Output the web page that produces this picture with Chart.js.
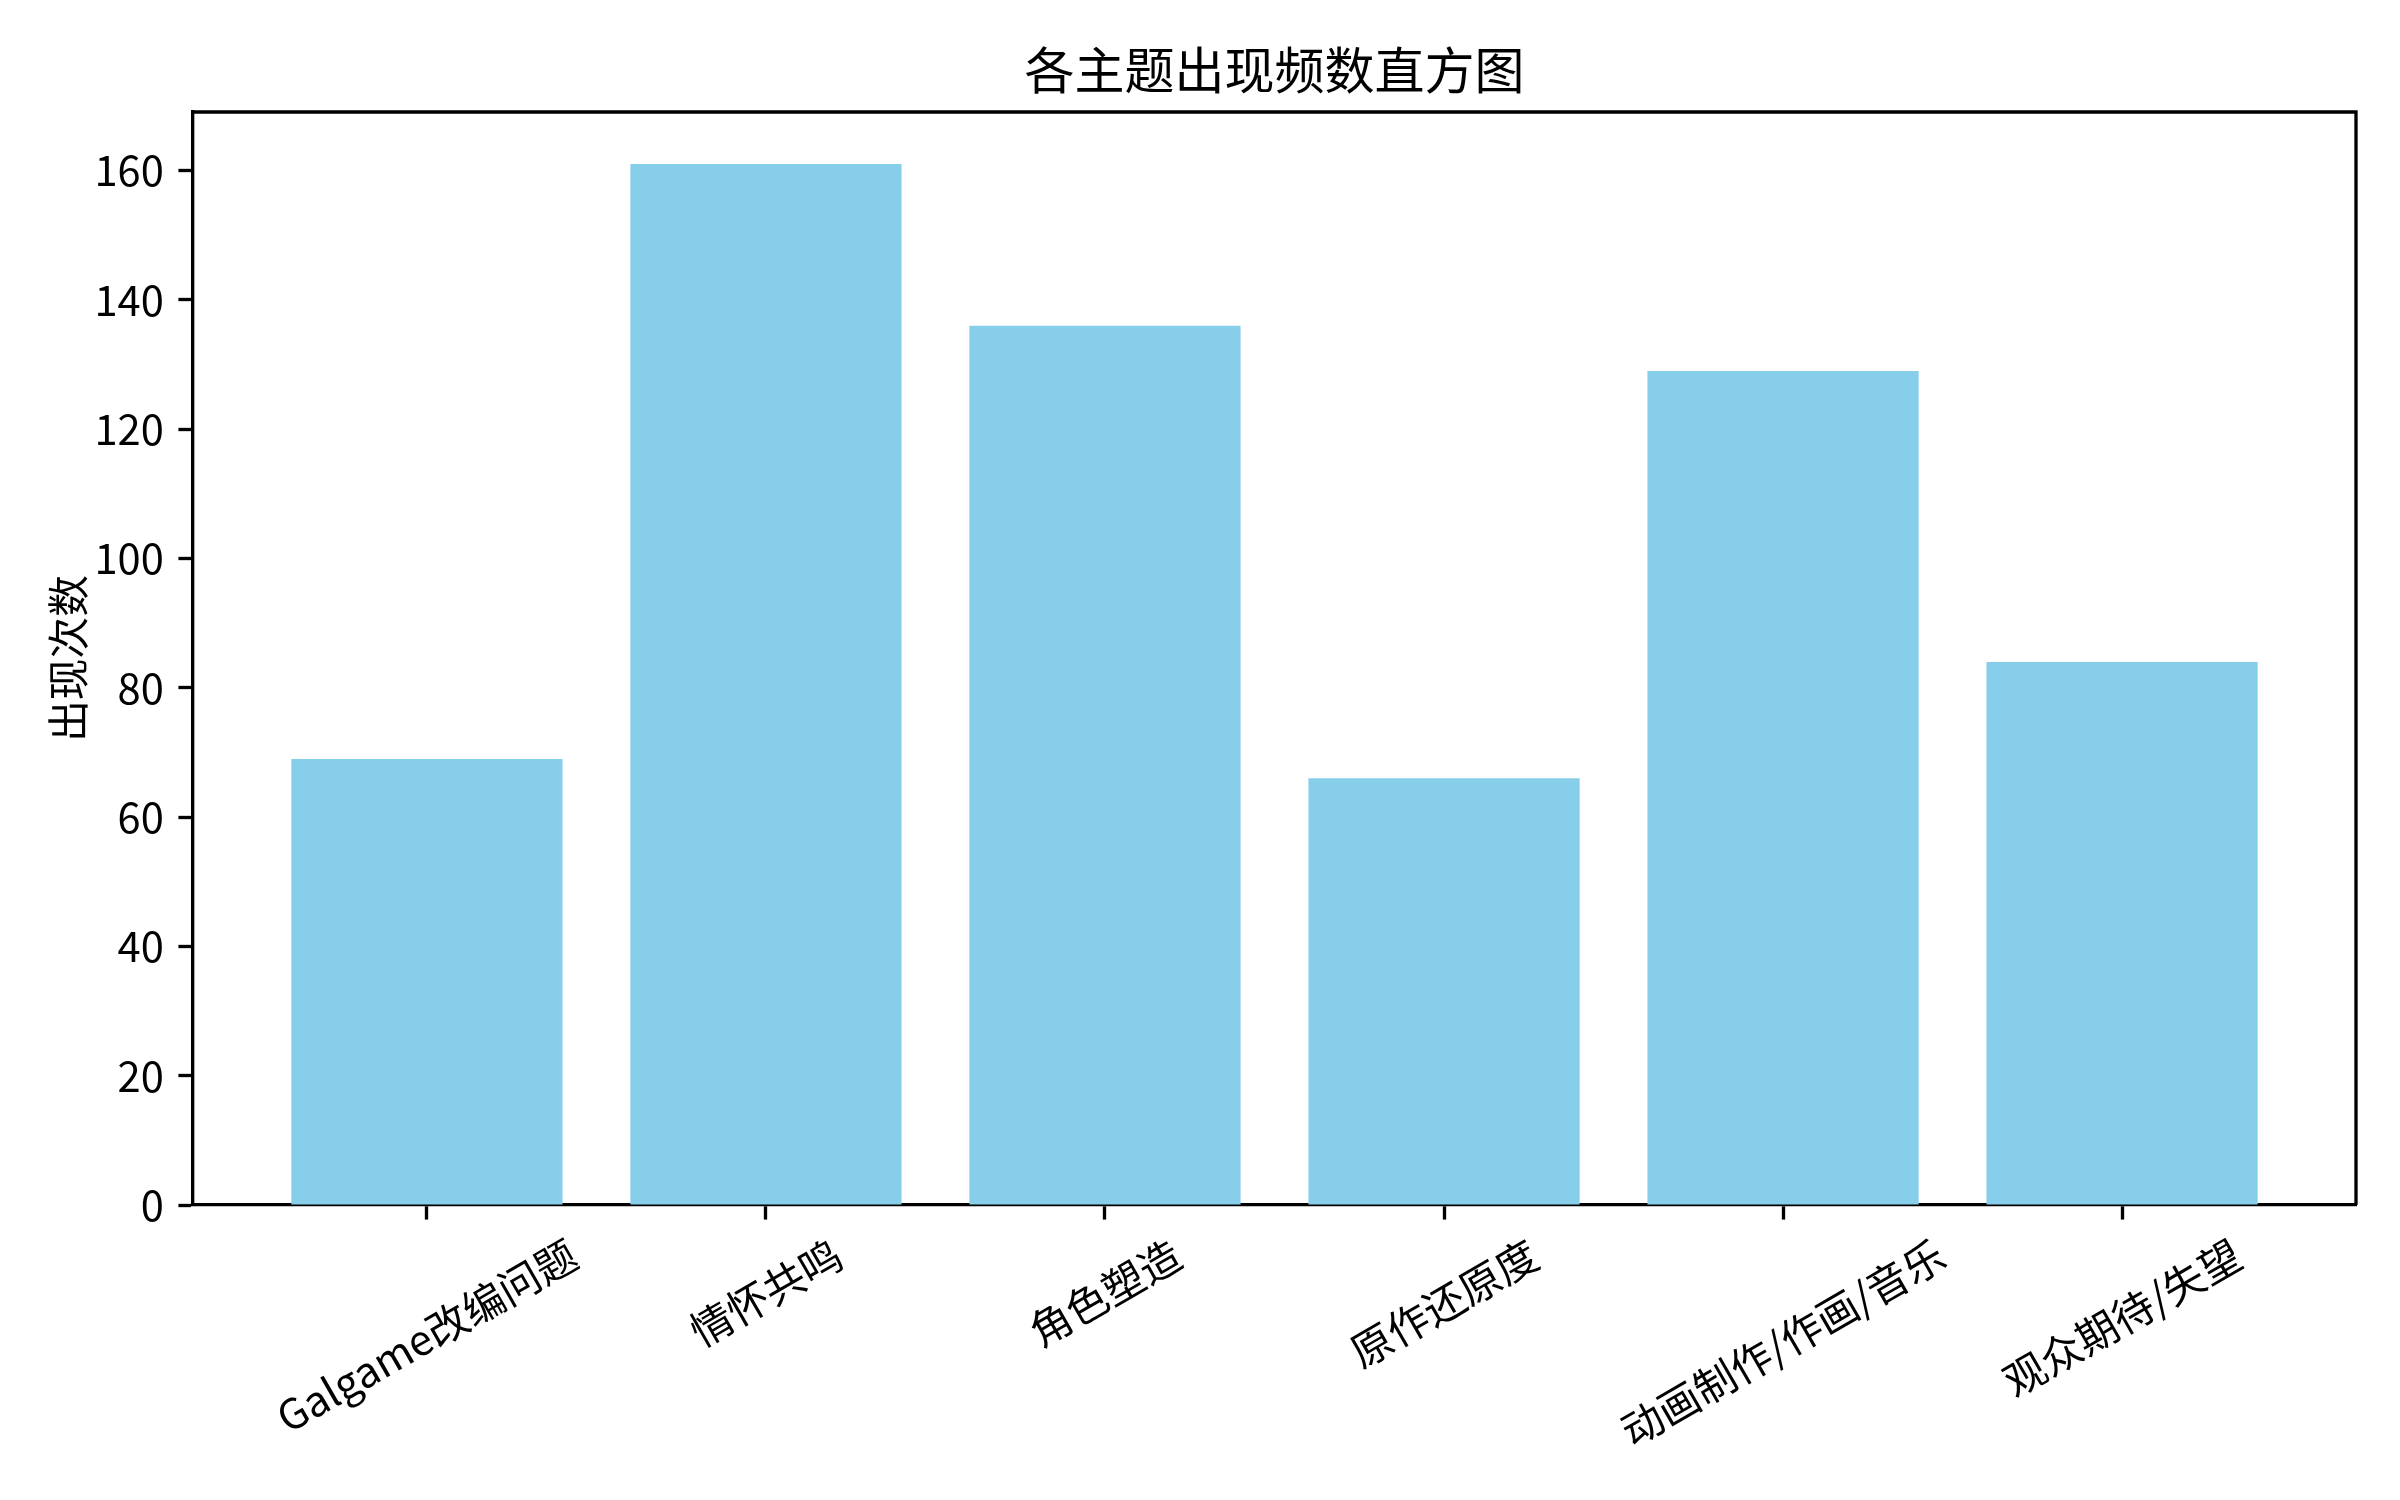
<!DOCTYPE html>
<html>
<head>
<meta charset="utf-8">
<script src="https://cdn.jsdelivr.net/npm/chart.js@4/dist/chart.umd.min.js"></script>
<style>
  html, body { margin: 0; padding: 0; background: #fff; }
  canvas { display: block; }
</style>
</head>
<body>
<canvas id="myChart" width="2400" height="1500" style="width:2400px;height:1500px"></canvas>
<script>
const topics = ['Galgame改编问题', '情怀共鸣', '角色塑造', '原作还原度', '动画制作/作画/音乐', '观众期待/失望'];
const counts = [69, 161, 136, 66, 129, 84];
const yTicks = [0, 20, 40, 60, 80, 100, 120, 140, 160];

const FONT = "'Noto Sans CJK SC', 'Noto Sans', sans-serif";
const PT = 300 / 72; // figure was 300 dpi

// rotated x labels, centred under each tick like matplotlib's rotation=30
const xLabels = {
    id: 'xLabels',
    afterDraw(chart) {
        const ctx = chart.ctx;
        const xs = chart.scales.x;
        const size = 10 * PT;
        const ang = Math.PI / 6;
        const top = chart.chartArea.bottom + 3.5 * PT + 3.5 * PT;
        ctx.save();
        ctx.font = size + 'px ' + FONT;
        ctx.fillStyle = '#000';
        ctx.textAlign = 'center';
        ctx.textBaseline = 'middle';
        topics.forEach((t, i) => {
            const w = ctx.measureText(t).width;
            const h = size * 0.95;
            const boxH = w * Math.sin(ang) + h * Math.cos(ang);
            ctx.save();
            ctx.translate(xs.getPixelForValue(i), top + boxH / 2);
            ctx.rotate(-ang);
            ctx.fillText(t, 0, 0);
            ctx.restore();
        });
        ctx.restore();
    }
};

// top and right spines
const frame = {
    id: 'frame',
    afterDraw(chart) {
        const {left, right, top, bottom} = chart.chartArea;
        const ctx = chart.ctx;
        ctx.save();
        ctx.strokeStyle = '#000';
        ctx.lineWidth = 0.8 * PT;
        ctx.beginPath();
        ctx.moveTo(left, top);
        ctx.lineTo(right, top);
        ctx.lineTo(right, bottom);
        ctx.stroke();
        ctx.restore();
    }
};

function buildChart() {
    const data = {
        datasets: [{
            data: counts.map((v, i) => ({x: i, y: v})),
            backgroundColor: '#87CEEB',
            borderWidth: 0,
            barPercentage: 0.8,
            categoryPercentage: 1.0
        }]
    };

    const config = {
        type: 'bar',
        data: data,
        options: {
            responsive: false,
            animation: false,
            devicePixelRatio: 1,
            layout: {
                padding: {left: 0, right: 44, top: 0, bottom: 0}
            },
            plugins: {
                legend: {display: false},
                tooltip: {enabled: false},
                title: {
                    display: true,
                    fullSize: false,
                    text: '各主题出现频数直方图',
                    color: '#000',
                    font: {family: FONT, size: 12 * PT, weight: 'normal', lineHeight: 1.2},
                    padding: {top: 40, bottom: 12}
                }
            },
            scales: {
                x: {
                    type: 'linear',
                    position: 'bottom',
                    offset: false,
                    min: -0.69,
                    max: 5.69,
                    z: 1,
                    afterBuildTicks: (scale) => {
                        scale.ticks = topics.map((_, i) => ({value: i}));
                    },
                    afterFit: (scale) => { scale.height = 295; },
                    ticks: {display: false},
                    grid: {
                        offset: false,
                        drawOnChartArea: false,
                        drawTicks: true,
                        tickLength: 3.5 * PT,
                        tickWidth: 0.8 * PT,
                        tickColor: '#000'
                    },
                    border: {display: true, color: '#000', width: 0.8 * PT}
                },
                y: {
                    min: 0,
                    max: 169.05,
                    z: 1,
                    afterBuildTicks: (scale) => {
                        scale.ticks = yTicks.map(v => ({value: v}));
                    },
                    afterFit: (scale) => { scale.width = 193; },
                    ticks: {
                        color: '#000',
                        padding: 3.5 * PT,
                        font: {family: FONT, size: 10 * PT}
                    },
                    grid: {
                        drawOnChartArea: false,
                        drawTicks: true,
                        tickLength: 3.5 * PT,
                        tickWidth: 0.8 * PT,
                        tickColor: '#000'
                    },
                    border: {display: true, color: '#000', width: 0.8 * PT},
                    title: {
                        display: true,
                        text: '出现次数',
                        color: '#000',
                        font: {family: FONT, size: 10 * PT, lineHeight: 1.2},
                        padding: {top: 43, bottom: 0}
                    }
                }
            }
        },
        plugins: [xLabels, frame]
    };

    new Chart(document.getElementById('myChart').getContext('2d'), config);
}

buildChart();
</script>
</body>
</html>
